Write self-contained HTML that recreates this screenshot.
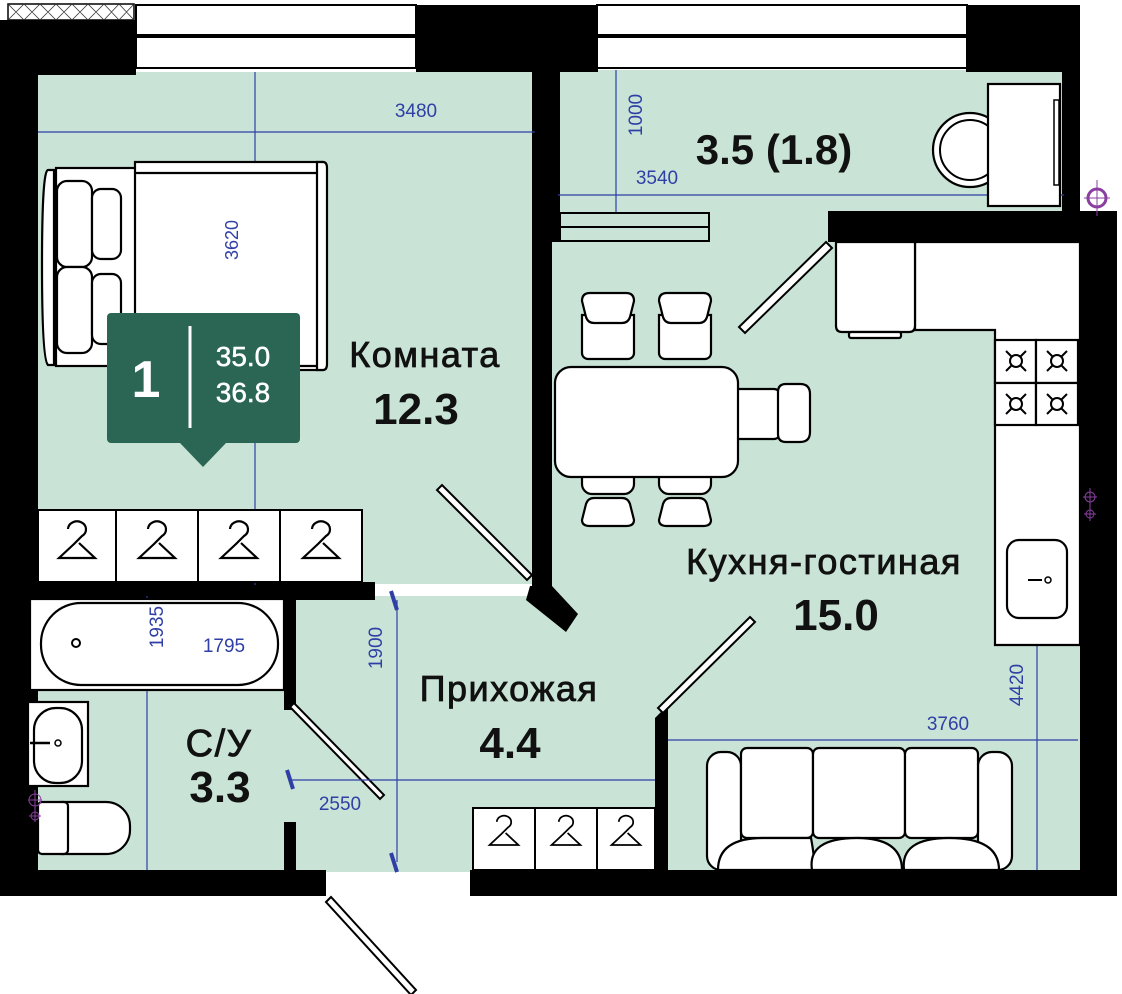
<!DOCTYPE html>
<html><head><meta charset="utf-8"><style>
html,body{margin:0;padding:0;background:#fff}
svg{display:block}
text{font-family:"Liberation Sans","DejaVu Sans",sans-serif}
</style></head><body>
<svg width="1122" height="994" viewBox="0 0 1122 994" xmlns="http://www.w3.org/2000/svg">
<defs>
<g id="hg"><path d="M-9,-9 a9,8 0 1 1 14,7 L-3,6 L-18,20 L18,20 L2,5" fill="none" stroke="#000" stroke-width="2.2" stroke-linejoin="miter"/></g>
<g id="burn"><circle cx="0" cy="0" r="6" fill="none" stroke="#000" stroke-width="2"/><path d="M-10,-10 L-4,-4 M10,-10 L4,-4 M-10,10 L-4,4 M10,10 L4,4" stroke="#000" stroke-width="2"/></g>
<g id="chair"><path d="M-26,10 v38 a6,6 0 0 0 6,6 h40 a6,6 0 0 0 6,-6 v-38 z" fill="#fff" stroke="#000" stroke-width="2.2"/><path d="M-26,-4 q0,-8 8,-8 h36 q8,0 8,8 l-4,16 q-2,6 -8,6 h-28 q-6,0 -8,-6 z" fill="#fff" stroke="#000" stroke-width="2.2"/></g>
<g id="chairB"><path d="M-26,-10 v-8 h52 v8 a10,10 0 0 1 -10,10 h-32 a10,10 0 0 1 -10,-10 z" fill="#fff" stroke="#000" stroke-width="2.2"/><path d="M-26,26 q0,6 8,6 h36 q8,0 8,-6 l-4,-16 q-2,-6 -8,-6 h-28 q-6,0 -8,6 z" fill="#fff" stroke="#000" stroke-width="2.2"/></g>
</defs>
<!-- floors -->
<rect x="38" y="72" width="494" height="512" fill="#c9e4d6"/>
<rect x="558" y="70" width="506" height="145" fill="#c9e4d6"/>
<rect x="550" y="212" width="530" height="660" fill="#c9e4d6"/>
<rect x="290" y="596" width="370" height="276" fill="#c9e4d6"/>
<rect x="38" y="596" width="252" height="276" fill="#c9e4d6"/>
<rect x="16" y="780" width="24" height="42" fill="#c9e4d6"/>

<!-- top windows -->
<rect x="136" y="5" width="280" height="30" fill="#fff" stroke="#000" stroke-width="2"/>
<rect x="136" y="37" width="280" height="31" fill="#fff" stroke="#000" stroke-width="2"/>
<rect x="597" y="5" width="370" height="30" fill="#fff" stroke="#000" stroke-width="2"/>
<rect x="597" y="37" width="370" height="31" fill="#fff" stroke="#000" stroke-width="2"/>
<!-- hatch -->
<rect x="8" y="4" width="126" height="16" fill="#fff" stroke="#000" stroke-width="1.5"/>
<path d="M8,4 l16,16 m0,-16 l-16,16 M24,4 l16,16 m0,-16 l-16,16 M40,4 l16,16 m0,-16 l-16,16 M56,4 l16,16 m0,-16 l-16,16 M72,4 l16,16 m0,-16 l-16,16 M88,4 l16,16 m0,-16 l-16,16 M104,4 l15,16 m0,-16 l-15,16 M119,4 l15,16 m0,-16 l-15,16" stroke="#333" stroke-width="0.8"/>

<!-- walls -->
<g fill="#000">
<rect x="0" y="20" width="136" height="55"/>
<rect x="0" y="20" width="38" height="876"/>
<rect x="0" y="870" width="326" height="26"/>
<rect x="416" y="5" width="182" height="67"/>
<rect x="532" y="5" width="28" height="237"/>
<rect x="532" y="240" width="20" height="348"/>
<polygon points="530,586 552,586 578,614 566,632 526,600"/>
<rect x="966" y="5" width="114" height="67"/>
<rect x="1062" y="5" width="18" height="222"/>
<rect x="828" y="211" width="289" height="31"/>
<rect x="1080" y="225" width="37" height="671"/>
<rect x="470" y="870" width="647" height="26"/>
<rect x="0" y="582" width="375" height="18"/>
<rect x="284" y="600" width="12" height="110"/>
<rect x="284" y="822" width="12" height="50"/>
<polygon points="655,718 668,705 668,872 655,872"/>
</g>
<!-- balcony threshold strips -->
<rect x="560" y="213" width="149" height="14" fill="#c9e4d6" stroke="#000" stroke-width="2"/>
<rect x="560" y="227" width="149" height="14" fill="#c9e4d6" stroke="#000" stroke-width="2"/>

<!-- doors -->
<g stroke="#000" stroke-width="2" fill="#fff">
<polygon points="826,242 832,248 745,333 739,327"/>
<polygon points="437,490 442,485 532,575 527,580"/>
<polygon points="750,617 755,622 663,713 658,708"/>
<polygon points="290,707 294,703 384,795 380,799"/>
<polygon points="326,902 331,897 416,990 411,995"/>
</g>

<!-- dimension lines -->
<g stroke="#2f3fa6" stroke-width="1.2">
<line x1="38" y1="132" x2="535" y2="132"/>
<line x1="255" y1="72" x2="255" y2="585"/>
<line x1="558" y1="195" x2="1064" y2="195"/>
<line x1="616" y1="70" x2="616" y2="212"/>
<line x1="1037" y1="242" x2="1037" y2="870"/>
<line x1="668" y1="740" x2="1078" y2="740"/>
<line x1="397" y1="600" x2="397" y2="862"/>
<line x1="292" y1="780" x2="655" y2="780"/>
<line x1="30" y1="664" x2="285" y2="664"/>
<line x1="147" y1="596" x2="147" y2="870"/>
</g>
<g stroke="#2f3fa6" stroke-width="4">
<line x1="391" y1="591" x2="397" y2="610"/>
<line x1="391" y1="853" x2="397" y2="872"/>
<line x1="287" y1="770" x2="293" y2="789"/>
</g>

<!-- bed -->
<g stroke="#000" stroke-width="2.2" fill="#fff">
<path d="M48,170 q-6,0 -6,95 q0,95 6,100 h6 v-195 z"/>
<rect x="56" y="168" width="80" height="198"/>
<rect x="135" y="162" width="188" height="208"/>
<line x1="135" y1="173" x2="317" y2="173"/>
<line x1="135" y1="366" x2="317" y2="366"/>
<path d="M317,162 h6 q4,0 4,6 v196 q0,6 -4,6 h-6 z"/>
<rect x="57" y="181" width="35" height="86" rx="10"/>
<rect x="92" y="189" width="29" height="70" rx="9"/>
<rect x="57" y="267" width="35" height="86" rx="10"/>
<rect x="92" y="274" width="29" height="70" rx="9"/>
</g>
<text transform="translate(238,240) rotate(-90)" text-anchor="middle" font-size="18" fill="#2f3fa6">3620</text>

<!-- badge -->
<rect x="107" y="313" width="193" height="130" rx="4" fill="#2a6653"/>
<polygon points="180,443 226,443 203,467" fill="#2a6653"/>
<line x1="190" y1="326" x2="190" y2="428" stroke="#fff" stroke-width="3"/>
<text x="146" y="397" text-anchor="middle" font-size="52" font-weight="bold" fill="#fff">1</text>
<text x="243" y="366" text-anchor="middle" font-size="28" fill="#fff" stroke="#fff" stroke-width="0.5">35.0</text>
<text x="243" y="402" text-anchor="middle" font-size="28" fill="#fff" stroke="#fff" stroke-width="0.5">36.8</text>

<!-- wardrobes -->
<g fill="#fff" stroke="#000" stroke-width="2">
<rect x="38" y="510" width="78" height="72"/><rect x="116" y="510" width="82" height="72"/>
<rect x="198" y="510" width="82" height="72"/><rect x="280" y="510" width="82" height="72"/>
<rect x="473" y="808" width="62" height="62"/><rect x="535" y="808" width="62" height="62"/><rect x="597" y="808" width="58" height="62"/>
</g>
<use href="#hg" x="77" y="538"/><use href="#hg" x="157" y="538"/><use href="#hg" x="239" y="538"/><use href="#hg" x="321" y="538"/>
<g transform="translate(504,829) scale(0.8)"><use href="#hg"/></g>
<g transform="translate(566,829) scale(0.8)"><use href="#hg"/></g>
<g transform="translate(626,829) scale(0.8)"><use href="#hg"/></g>

<!-- balcony desk -->
<circle cx="970" cy="150" r="37" fill="#fff" stroke="#000" stroke-width="2.2"/>
<circle cx="970" cy="150" r="30" fill="#fff" stroke="#000" stroke-width="2"/>
<rect x="988" y="84" width="72" height="122" fill="#fff" stroke="#000" stroke-width="2.2"/>
<rect x="1054" y="100" width="5" height="85" fill="#fff" stroke="#000" stroke-width="1.5"/>
<circle cx="1097" cy="198" r="9" fill="none" stroke="#8a3fa0" stroke-width="3"/>
<path d="M1097,180 v36 M1084,198 h26" stroke="#8a3fa0" stroke-width="1"/>

<!-- kitchen counter -->
<g fill="#fff" stroke="#000" stroke-width="2.2">
<path d="M915,242 H1080 V645 H995 V330 H915 Z"/>
<path d="M836,242 H915 V326 q0,6 -6,6 H842 q-6,0 -6,-6 Z"/>
<rect x="849" y="332" width="52" height="6" rx="2"/>
<rect x="995" y="340" width="41" height="43"/><rect x="1036" y="340" width="42" height="43"/>
<rect x="995" y="383" width="41" height="42"/><rect x="1036" y="383" width="42" height="42"/>
<rect x="1007" y="540" width="60" height="78" rx="12"/>
</g>
<use href="#burn" x="1016" y="361"/><use href="#burn" x="1057" y="361"/>
<use href="#burn" x="1016" y="404"/><use href="#burn" x="1057" y="404"/>
<path d="M1028,580 h14" stroke="#000" stroke-width="2"/><circle cx="1048" cy="580" r="3" fill="none" stroke="#000" stroke-width="1.5"/>
<g stroke="#8a3fa0" stroke-width="1" fill="none"><circle cx="1090" cy="497" r="5"/><circle cx="1090" cy="514" r="4"/><path d="M1090,488 v33 M1083,497 h14 M1084,514 h12"/></g>

<!-- table + chairs -->
<use href="#chair" x="608" y="305"/>
<use href="#chair" x="685" y="305"/>
<use href="#chairB" x="608" y="494"/>
<use href="#chairB" x="685" y="494"/>
<g fill="#fff" stroke="#000" stroke-width="2.2">
<rect x="732" y="389" width="48" height="50" rx="6"/>
<path d="M778,392 q0,-8 8,-8 h14 q10,0 10,10 v38 q0,10 -10,10 h-14 q-8,0 -8,-8 z"/>
</g>
<rect x="555" y="367" width="183" height="110" rx="16" fill="#fff" stroke="#000" stroke-width="2.2"/>

<!-- sofa -->
<g fill="#fff" stroke="#000" stroke-width="2.2">
<rect x="707" y="752" width="34" height="118" rx="14"/>
<rect x="978" y="752" width="34" height="118" rx="14"/>
<rect x="741" y="748" width="72" height="90" rx="6"/>
<rect x="813" y="748" width="92" height="90" rx="6"/>
<rect x="905" y="748" width="73" height="90" rx="6"/>
<path d="M718,870 q0,-32 45,-32 h48 q6,32 0,32 z"/>
<path d="M812,870 q-5,-32 45,-32 h0 q45,0 45,32 z"/>
<path d="M904,870 q-4,-32 45,-32 h0 q50,0 50,32 z"/>
</g>

<!-- bathroom -->
<g fill="#fff" stroke="#000" stroke-width="2.2">
<rect x="30" y="599" width="254" height="91"/>
<rect x="41" y="603" width="237" height="82" rx="40"/>
<rect x="28" y="702" width="60" height="84"/>
<rect x="34" y="708" width="48" height="75" rx="22"/>
<rect x="38" y="802" width="92" height="52" rx="24"/>
<rect x="38" y="802" width="30" height="52" rx="4"/>
</g>
<circle cx="76" cy="643" r="4" fill="none" stroke="#000" stroke-width="2"/>
<path d="M30,743 h20" stroke="#000" stroke-width="2.5"/><circle cx="58" cy="743" r="3" fill="none" stroke="#000" stroke-width="1.5"/>
<g stroke="#8a3fa0" stroke-width="1" fill="none"><circle cx="35" cy="800" r="6"/><circle cx="35" cy="816" r="4"/><path d="M35,790 v32 M28,800 h14 M29,816 h12"/></g>

<!-- labels -->
<g fill="#2f3fa6" font-size="19">
<text x="416" y="117" text-anchor="middle">3480</text>
<text x="657" y="184" text-anchor="middle">3540</text>
<text transform="translate(642,115) rotate(-90)" text-anchor="middle">1000</text>
<text x="948" y="730" text-anchor="middle">3760</text>
<text transform="translate(1023,685) rotate(-90)" text-anchor="middle">4420</text>
<text x="224" y="652" text-anchor="middle">1795</text>
<text transform="translate(163,627) rotate(-90)" text-anchor="middle">1935</text>
<text transform="translate(382,648) rotate(-90)" text-anchor="middle">1900</text>
<text x="340" y="810" text-anchor="middle">2550</text>
</g>
<g fill="#111" stroke="#111" stroke-width="0.8" font-size="36" letter-spacing="1.5">
<text x="425" y="367" text-anchor="middle">Комната</text>
<text x="824" y="574" text-anchor="middle">Кухня-гостиная</text>
<text x="509" y="701" text-anchor="middle">Прихожая</text>
<text x="219" y="756" text-anchor="middle" font-size="38">С/У</text>
</g>
<g fill="#111" font-weight="bold">
<text x="416" y="424" text-anchor="middle" font-size="44">12.3</text>
<text x="774" y="164" text-anchor="middle" font-size="42">3.5 (1.8)</text>
<text x="836" y="630" text-anchor="middle" font-size="44">15.0</text>
<text x="510" y="758" text-anchor="middle" font-size="44">4.4</text>
<text x="220" y="802" text-anchor="middle" font-size="44">3.3</text>
</g>
</svg>
</body></html>
